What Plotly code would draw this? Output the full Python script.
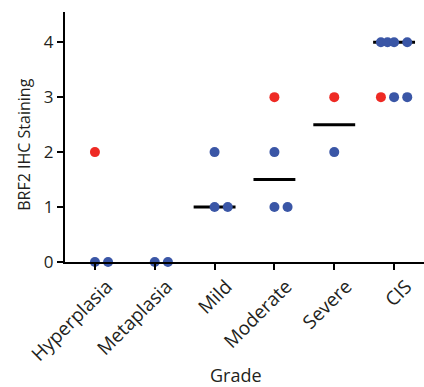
import plotly.graph_objects as go

categories = ["Hyperplasia", "Metaplasia", "Mild", "Moderate", "Severe", "CIS"]
red_values = [[2], [], [], [3], [3], [3]]
blue_values = [[0, 0], [0, 0], [2, 1, 1], [2, 1, 1], [2], [4, 4, 4, 4, 3, 3]]
medians = [0, 0, 1, 1.5, 2.5, 4]
y_ticks = [0, 1, 2, 3, 4]
x_title = "Grade"
y_title = "BRF2 IHC Staining"

RED = "#EE2A24"
BLUE = "#3A56A6"
STEP = 0.22


def offsets(n):
    if n == 1:
        return [0.0]
    if n == 2:
        return [0.0, STEP]
    if n == 3:
        return [-STEP, 0.0, STEP]
    return [-STEP + i * (STEP / 2) for i in range(n - 1)] + [STEP]


rx, ry, bx, by = [], [], [], []
for i, cat in enumerate(categories):
    pts = [(v, "r") for v in red_values[i]] + [(v, "b") for v in blue_values[i]]
    for val in sorted(set(v for v, _ in pts)):
        grp = [c for v, c in pts if v == val]
        offs = offsets(len(grp))
        for c, o in zip(grp, offs):
            if c == "r":
                rx.append(i + o); ry.append(val)
            else:
                bx.append(i + o); by.append(val)

fig = go.Figure()
for i, m in enumerate(medians):
    if m == 0:
        continue  # hidden behind the axis line in the original
    fig.add_trace(go.Scatter(x=[i - 0.35, i + 0.35], y=[m, m], mode="lines",
                             line=dict(color="black", width=3), showlegend=False,
                             cliponaxis=False, hoverinfo="skip"))
fig.add_trace(go.Scatter(x=bx, y=by, mode="markers", marker=dict(color=BLUE, size=10),
                         showlegend=False, cliponaxis=False))
fig.add_trace(go.Scatter(x=rx, y=ry, mode="markers", marker=dict(color=RED, size=10),
                         showlegend=False, cliponaxis=False))

FONT = "Open Sans, Noto Sans, sans-serif"
TXT = "#231F20"
fig.update_layout(
    width=424, height=387,
    margin=dict(l=65, r=0, t=12, b=125),
    plot_bgcolor="white", paper_bgcolor="white",
    font=dict(family=FONT, size=16, color=TXT),
    xaxis=dict(range=[-0.5, 5.5], tickmode="array", tickvals=list(range(len(categories))),
               ticktext=categories, tickangle=-45, showline=True, linecolor="black",
               linewidth=2, ticks="outside", ticklen=6, tickwidth=2, tickcolor="black",
               showgrid=False, zeroline=False, tickfont=dict(size=19), automargin=False,
               ticklabelshift=12, ticklabelstandoff=-2),
    yaxis=dict(range=[0, 4.55], tickmode="array", tickvals=y_ticks, showline=True,
               linecolor="black", linewidth=2, ticks="outside", ticklen=6, tickwidth=2,
               tickcolor="black", showgrid=False, zeroline=False, tickfont=dict(size=17),
               automargin=False),
    annotations=[
        dict(text=x_title, xref="paper", yref="paper", x=0.475, y=-0.452,
             xanchor="center", yanchor="middle", showarrow=False, font=dict(size=18)),
        dict(text=y_title, xref="paper", yref="paper", x=-0.115, y=0.468, textangle=-90,
             xanchor="center", yanchor="middle", showarrow=False, font=dict(size=16)),
    ],
)
fig.write_html("out.html", config={"displayModeBar": False},
               post_script="document.body.style.margin='0';document.body.style.overflow='hidden';")
